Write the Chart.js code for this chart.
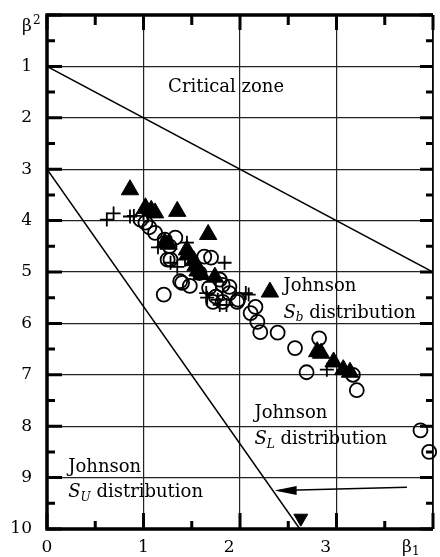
<!DOCTYPE html>
<html>
<head>
<meta charset="utf-8">
<script src="https://cdn.jsdelivr.net/npm/chart.js@4/dist/chart.umd.min.js"></script>
<style>
  body { margin: 0; background: #fff; overflow: hidden; }
  /* slightly wider than the window so the right frame lands on the window edge */
  #wrap { width: 444px; height: 557px; }
</style>
</head>
<body>
<div id="wrap"><canvas id="chart"></canvas></div>
<script>
// beta1 (x) / beta2 (y) points
let triX = [0.86, 1.02, 1.08, 1.12, 1.35, 1.67, 1.22, 1.26, 1.45, 1.46, 1.52, 1.54, 1.56, 1.60, 1.74, 2.31, 2.80, 2.84, 2.97, 3.07, 3.14]
let triY = [3.40, 3.75, 3.80, 3.85, 3.82, 4.27, 4.43, 4.46, 4.57, 4.65, 4.78, 4.88, 4.98, 5.05, 5.10, 5.39, 6.55, 6.58, 6.75, 6.90, 6.95]

let crossX = [0.62, 0.69, 0.86, 0.90, 1.00, 1.05, 1.15, 1.28, 1.35, 1.43, 1.45, 1.65, 1.66, 1.77, 1.84, 1.86, 1.79, 2.06, 2.09, 2.90]
let crossY = [3.98, 3.86, 3.92, 3.91, 3.85, 3.90, 4.52, 4.82, 4.90, 4.76, 4.43, 5.41, 5.50, 5.54, 4.82, 5.64, 5.64, 5.41, 5.44, 6.90]

let circX = [0.97, 1.02, 1.06, 1.12, 1.22, 1.27, 1.33, 1.25, 1.28, 1.21, 1.38, 1.40, 1.48, 1.58, 1.63, 1.70, 1.68, 1.72, 1.75, 1.79, 1.82, 1.82, 1.89, 1.89, 1.97, 1.98, 2.11, 2.16, 2.18, 2.21, 2.39, 2.57, 2.69, 2.82, 3.17, 3.21, 3.87, 3.96]
let circY = [3.98, 4.04, 4.13, 4.24, 4.37, 4.50, 4.33, 4.76, 4.76, 5.44, 5.18, 5.21, 5.27, 5.02, 4.70, 4.72, 5.31, 5.58, 5.48, 5.15, 5.25, 5.58, 5.29, 5.41, 5.58, 5.54, 5.80, 5.68, 5.97, 6.17, 6.18, 6.48, 6.95, 6.29, 7.00, 7.30, 8.08, 8.50]

// boundary lines
let upperLineX = [0, 4]
let upperLineY = [1, 5]
let lowerLineX = [0, 2.62]
let lowerLineY = [3, 10]
let arrowX = [3.73, 2.40]
let arrowY = [9.19, 9.25]
let markX = [2.63]
let markY = [9.79]

let xTickLabels = ['0', '1', '2', '3', '']
let yTickLabels = ['', '1', '2', '3', '4', '5', '6', '7', '8', '9', '10']

function pts(xs, ys) {
    return xs.map((v, i) => ({ x: v, y: ys[i] }))
}

const serif = '"DejaVu Serif", serif'

const framePlugin = {
    id: 'frame',
    afterDraw(chart) {
        const ctx = chart.ctx
        const a = chart.chartArea
        const x = chart.scales.x
        const y = chart.scales.y
        ctx.save()
        ctx.strokeStyle = '#000'
        ctx.fillStyle = '#000'
        ctx.lineCap = 'butt'

        // frame
        ctx.lineWidth = 3.5
        ctx.beginPath()
        ctx.moveTo(a.right, a.top); ctx.lineTo(a.left, a.top)
        ctx.lineTo(a.left, a.bottom); ctx.lineTo(a.right, a.bottom)
        ctx.stroke()
        ctx.lineWidth = 1.5
        ctx.beginPath()
        ctx.moveTo(a.right, a.top); ctx.lineTo(a.right, a.bottom)
        ctx.stroke()

        // inward ticks, major on integers and minor on halves
        ctx.lineWidth = 3
        for (let v = 0; v <= 4; v += 0.5) {
            const px = x.getPixelForValue(v)
            const major = v % 1 === 0
            ctx.beginPath()
            ctx.moveTo(px, a.top); ctx.lineTo(px, a.top + (major ? 15 : 10))
            ctx.moveTo(px, a.bottom); ctx.lineTo(px, a.bottom - (major ? 16 : 8))
            ctx.stroke()
        }
        for (let v = 0; v <= 10; v += 0.5) {
            const py = y.getPixelForValue(v)
            const major = v % 1 === 0
            ctx.beginPath()
            ctx.moveTo(a.left, py); ctx.lineTo(a.left + (major ? 15 : 8), py)
            ctx.moveTo(a.right, py); ctx.lineTo(a.right - (major ? 13 : 7), py)
            ctx.stroke()
        }

        // arrow head at the end of the arrow line
        const arrowMeta = chart.getDatasetMeta(3)
        const tip = arrowMeta.data[1]
        ctx.beginPath()
        ctx.moveTo(tip.x - 4, tip.y)
        ctx.lineTo(tip.x + 18, tip.y - 4.5)
        ctx.lineTo(tip.x + 18, tip.y + 4.5)
        ctx.closePath()
        ctx.fill()

        // texts
        ctx.textBaseline = 'middle'
        ctx.textAlign = 'left'
        const big = '18px ' + serif
        const txt = (s, vx, vy) => {
            ctx.font = big
            ctx.fillText(s, x.getPixelForValue(vx), y.getPixelForValue(vy))
        }
        const dist = (sub, vx, vy) => {
            let px = x.getPixelForValue(vx)
            const py = y.getPixelForValue(vy)
            ctx.font = 'italic 18px ' + serif
            ctx.fillText('S', px, py)
            px += ctx.measureText('S').width
            ctx.font = 'italic 12px ' + serif
            ctx.fillText(sub, px, py + 5)
            px += ctx.measureText(sub).width
            ctx.font = big
            ctx.fillText(' distribution', px, py)
        }
        txt('Critical zone', 1.255, 1.41)
        txt('Johnson', 2.45, 5.27)
        dist('b', 2.45, 5.80)
        txt('Johnson', 2.15, 7.75)
        dist('L', 2.15, 8.26)
        txt('Johnson', 0.22, 8.80)
        dist('U', 0.22, 9.29)

        // axis titles
        ctx.font = '17px ' + serif
        ctx.fillText('β', 22, 27)
        ctx.font = '12px ' + serif
        ctx.fillText('2', 33, 21)
        ctx.font = '17px ' + serif
        ctx.fillText('β', 402, 548)
        ctx.font = '12px ' + serif
        ctx.fillText('1', 412, 552)
        ctx.restore()
    }
}

const ctx = document.getElementById('chart').getContext('2d')

const chart = new Chart(ctx, {
    type: 'scatter',
    data: {
        datasets: [
            {
                label: 'triangles',
                data: pts(triX, triY),
                pointStyle: 'triangle',
                pointRadius: 10,
                backgroundColor: '#000',
                borderColor: '#000',
                borderWidth: 1,
                clip: false
            },
            {
                label: 'crosses',
                data: pts(crossX, crossY),
                pointStyle: 'cross',
                pointRadius: 7,
                borderColor: '#000',
                borderWidth: 1.8,
                clip: false
            },
            {
                label: 'circles',
                data: pts(circX, circY),
                pointStyle: 'circle',
                pointRadius: 7,
                backgroundColor: 'rgba(0,0,0,0)',
                borderColor: '#000',
                borderWidth: 1.8,
                clip: false
            },
            {
                label: 'arrow',
                data: pts(arrowX, arrowY),
                showLine: true,
                pointRadius: 0,
                borderColor: '#000',
                borderWidth: 1.5
            },
            {
                label: 'upper',
                data: pts(upperLineX, upperLineY),
                showLine: true,
                pointRadius: 0,
                borderColor: '#000',
                borderWidth: 1.5
            },
            {
                label: 'lower',
                data: pts(lowerLineX, lowerLineY),
                showLine: true,
                pointRadius: 0,
                borderColor: '#000',
                borderWidth: 1.5
            },
            {
                label: 'mark',
                data: pts(markX, markY),
                pointStyle: 'triangle',
                rotation: 180,
                pointRadius: 8,
                backgroundColor: '#000',
                borderColor: '#000',
                borderWidth: 1,
                clip: false
            }
        ]
    },
    options: {
        responsive: true,
        maintainAspectRatio: false,
        animation: false,
        events: [],
        layout: { padding: { top: 15, right: 1, left: 0, bottom: 0 } },
        plugins: {
            legend: { display: false },
            tooltip: { enabled: false }
        },
        scales: {
            x: {
                type: 'linear',
                min: 0,
                max: 4,
                afterFit: s => { s.height = 28 },
                border: { display: false },
                grid: { color: '#222', lineWidth: 1.2, drawTicks: false },
                ticks: {
                    stepSize: 1,
                    padding: 0,
                    color: '#000',
                    // tall line box pushes the labels down without side padding
                    font: { family: serif, size: 17, lineHeight: 2.2 },
                    // the 2 and 3 labels sit a little left of their grid lines
                    callback: v => (v === 2 || v === 3) ? xTickLabels[v] + '\u2007\u2007' : xTickLabels[v]
                }
            },
            y: {
                type: 'linear',
                reverse: true,
                min: 0,
                max: 10,
                afterFit: s => { s.width = 47; s.paddingTop = 0; s.paddingBottom = 0 },
                border: { display: false },
                grid: { color: '#222', lineWidth: 1.2, drawTicks: false },
                ticks: {
                    stepSize: 1,
                    padding: 15,
                    color: '#000',
                    font: { family: serif, size: 17 },
                    callback: v => yTickLabels[v]
                }
            }
        }
    },
    plugins: [framePlugin]
})
</script>
</body>
</html>
